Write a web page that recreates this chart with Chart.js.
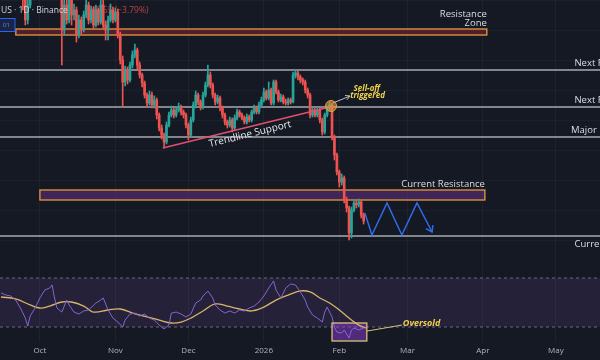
<!DOCTYPE html>
<html lang="en">
<head>
  <meta charset="UTF-8" />
  <title>Daily chart with RSI</title>
  <script src="https://cdn.jsdelivr.net/npm/chart.js"></script>
  <style>
    body { margin: 0; background: #151924; }
    #wrap { position: relative; width: 600px; height: 360px; overflow: hidden; background: #151924; }
    canvas { position: absolute; left: 0; }
    #priceChart { top: 0; }
    #rsiChart { top: 270px; }
  </style>
</head>
<body>
<div id="wrap">
  <canvas id="priceChart" width="600" height="270"></canvas>
  <canvas id="rsiChart" width="600" height="90"></canvas>
</div>
<script>
  // x axis is "days since Oct 1"
  const monthLabels = ['Oct', 'Nov', 'Dec', '2026', 'Feb', 'Mar', 'Apr', 'May'];
  const monthStarts = [0, 31, 61, 92, 123, 151, 182, 212];
  const dayMin = -16.4, dayMax = 230.1;

  // daily candles, first one on day -16 (open = previous close)
  const firstDay = -16;
  const firstOpen = 4400;
  const closes = [
    4420,4380,4450,4400,4350,4300,4380,4330,4280,4230,
    4000,4150,4320,4400,4450,4500,4480,4550,4600,4520,
    4580,4500,4450,4400,4350,3900,4150,4000,4200,4050,
    4100,3850,4000,3900,4050,4150,4000,4100,3950,4100,
    3980,4150,3950,3900,4000,4100,4000,4080,3850,3600,
    3380,3500,3400,3550,3650,3700,3550,3450,3370,3250,
    3170,3250,3150,3200,3050,2920,2850,2780,2950,3050,
    3100,3050,3100,3130,3080,3050,2950,2850,3000,3150,
    3250,3180,3130,3250,3350,3450,3350,3250,3180,3220,
    3120,3050,2980,2950,3000,2920,3020,3080,3050,3020,
    2980,3030,3000,3080,3120,3080,3150,3200,3280,3220,
    3300,3170,3380,3280,3200,3230,3180,3170,3200,3180,
    3450,3470,3430,3400,3380,3300,3250,3050,3100,3050,
    3100,3000,2880,3050,3120,3150,2830,2650,2480,2380,
    2420,2200,2120,1870,2100,2170,2150,2180,2050,1990
  ];
  const highs = [
    4470,4450,4490,4480,4420,4380,4410,4400,4360,4300,
    4260,4230,4360,4440,4490,4540,4550,4590,4650,4630,
    4610,4600,4520,4470,4420,4380,4200,4250,4350,4300,
    4160,4130,4050,4030,4090,4200,4180,4140,4130,4150,
    4120,4220,4300,3990,4040,4160,4130,4120,4110,3880,
    3640,3540,3530,3580,3690,3760,3720,3580,3470,3390,
    3270,3290,3280,3240,3220,3070,2950,2870,2980,3080,
    3140,3120,3130,3170,3150,3100,3070,2970,3030,3180,
    3290,3270,3200,3280,3380,3550,3480,3370,3270,3250,
    3240,3140,3070,3000,3030,3020,3050,3110,3100,3070,
    3040,3060,3050,3100,3150,3140,3180,3230,3320,3300,
    3380,3320,3400,3400,3300,3260,3250,3210,3220,3220,
    3480,3500,3490,3450,3420,3400,3320,3270,3130,3120,
    3120,3120,3020,3070,3140,3180,3170,2850,2670,2500,
    2460,2440,2230,2140,2130,2200,2200,2210,2200,2070
  ];
  const lows = [
    4370,4340,4350,4370,4310,4260,4270,4290,4230,4100,
    3950,3960,4120,4290,4370,4420,4440,4450,4520,4480,
    4490,4460,4410,4350,4250,3550,3850,3960,3970,3950,
    4000,3780,3820,3860,3880,4020,3960,3970,3920,3930,
    3950,3960,3920,3800,3800,3980,3970,3980,3820,3560,
    3130,3340,3360,3380,3520,3620,3510,3420,3330,3220,
    3130,3150,3120,3120,3010,2890,2810,2720,2760,2930,
    3030,3020,3030,3080,3050,3020,2920,2800,2830,2980,
    3120,3150,3100,3110,3230,3330,3320,3220,3150,3160,
    3090,3020,2950,2920,2930,2880,2900,3000,3030,3000,
    2960,2960,2980,2980,3060,3060,3060,3130,3180,3200,
    3200,3150,3150,3260,3180,3180,3160,3150,3150,3160,
    3170,3420,3400,3370,3350,3270,3220,3020,3030,3030,
    3030,2970,2850,2860,3030,3100,2800,2600,2450,2330,
    2350,2170,2080,1800,1820,2080,2120,2130,2020,1960
  ];

  // horizontal levels
  const levelPrices = [3500, 3130, 2830, 1840];
  const levelNames = ['Next Resistance', 'Next Resistance', 'Major Resistance', 'Current Support'];

  // boxes
  const zoneNames = ['Resistance\nZone', 'Current Resistance'];
  const zoneFrom = [-9.9, 0];
  const zoneTo = [183.6, 182.8];
  const zoneLow = [3850, 2200];
  const zoneHigh = [3910, 2300];

  const trendDays = [50.5, 119.1];
  const trendPrices = [2720, 3130];

  // projected path
  const pathDays = [133.5, 136.4, 142.6, 148.7, 154.9, 161.1];
  const pathPrices = [2070, 1850, 2170, 1850, 2170, 1880];

  // RSI pane
  const rsiDays = [-16,-14,-12,-10,-8,-6,-5,-4,-2,0,2,4,5,6,7,9,11,12,14,16,18,20,23,25,26,28,30,32,34,35,
    37,39,41,43,45,47,49,51,53,54,56,58,60,62,64,66,67,69,71,72,74,76,78,80,82,84,86,88,90,92,
    94,96,97,99,101,103,105,107,109,110,112,114,116,117,118,120,121,122,124,125,127,128,129,131,133];
  const rsiValues = [57.8,56.1,55.3,52.0,45.5,37.3,30.8,39.0,45.5,53.7,60.2,61.8,64.3,53.7,45.5,42.2,52.0,48.0,42.2,40.6,
    43.1,43.9,49.6,52.0,53.7,43.9,37.3,34.1,30.0,35.7,40.6,41.4,39.0,40.6,37.3,35.7,31.6,28.4,31.6,41.4,
    42.2,40.6,38.2,40.6,49.6,52.0,55.3,59.4,53.7,48.0,43.9,41.4,43.1,41.4,43.9,43.1,45.5,47.1,50.4,55.3,
    61.8,67.6,60.2,53.7,61.8,65.1,64.3,58.6,52.0,46.3,39.8,37.3,34.1,42.2,46.3,38.2,30.0,25.9,25.1,27.6,
    21.0,27.6,29.2,27.6,29.2];
  const maDays = [-16,-10,-4,0,4,9,13,18,22,28,33,38,44,49,54,58,62,67,72,77,82,87,92,97,102,107,111,115,119,123,127,131,134];
  const maValues = [54.5,52.9,48.0,45.5,47.1,50.4,50.4,47.1,42.2,43.9,44.7,41.4,38.2,35.7,33.3,34.1,37.3,43.1,48.8,47.1,
    44.7,43.1,46.3,52.0,56.1,59.4,58.6,53.7,49.6,43.9,37.3,31.6,29.2];
  const rsiBand = [30, 70];
  const oversoldFrom = 120, oversoldTo = 134.3, oversoldTop = 33.3;

  const UP = '#26a69a', DOWN = '#ef5350';
  const days = closes.map((c, i) => firstDay + i);
  const opens = closes.map((c, i) => i ? closes[i - 1] : firstOpen);
  const candleColor = closes.map((c, i) => c >= opens[i] ? UP : DOWN);

  function dayAxis(showLabels) {
    return {
      type: 'linear', min: dayMin, max: dayMax, offset: false,
      grid: { color: 'rgba(255,255,255,0.045)', drawTicks: false, offset: false },
      border: { display: false },
      afterBuildTicks: s => { s.ticks = monthStarts.map(v => ({ value: v })); },
      afterFit: s => { s.height = showLabels ? 18 : 0; },
      ticks: {
        display: showLabels, autoSkip: false, maxRotation: 0, padding: 4,
        color: '#b2b5be', font: { size: 8, family: '"Open Sans", sans-serif' },
        callback: v => monthLabels[monthStarts.indexOf(v)]
      }
    };
  }

  const baseOptions = {
    responsive: false,
    animation: false,
    events: [],
    layout: { padding: 0 },
    plugins: { legend: { display: false }, tooltip: { enabled: false } }
  };

  const priceNotes = {
    id: 'priceNotes',
    beforeDatasetsDraw(chart) {
      const { ctx, scales: { x, y } } = chart;
      const fills = ['rgba(130,35,55,0.55)', 'rgba(105,50,140,0.5)'];
      ctx.save();
      zoneLow.forEach((lo, i) => {
        const l = x.getPixelForValue(zoneFrom[i]), r = x.getPixelForValue(zoneTo[i]);
        const t = y.getPixelForValue(zoneHigh[i]), b = y.getPixelForValue(lo);
        ctx.fillStyle = fills[i];
        ctx.fillRect(l, t, r - l, b - t);
        ctx.strokeStyle = '#e59a3c';
        ctx.lineWidth = 1.3;
        ctx.strokeRect(l, t, r - l, b - t);
      });
      ctx.restore();
    },
    afterDatasetsDraw(chart) {
      const { ctx, scales: { x, y } } = chart;
      ctx.save();
      ctx.font = '9.5px "Open Sans", sans-serif';
      ctx.fillStyle = '#dcdee4';

      // box labels
      ctx.textAlign = 'right';
      zoneNames.forEach((name, i) => {
        const lines = name.split('\n');
        const r = x.getPixelForValue(zoneTo[i]), t = y.getPixelForValue(zoneHigh[i]);
        lines.forEach((ln, k) => ctx.fillText(ln, r, t - 3 - (lines.length - 1 - k) * 9));
      });

      // level labels (run off the right edge, like the original)
      ctx.textAlign = 'left';
      levelNames.forEach((name, i) => {
        const py = y.getPixelForValue(levelPrices[i]);
        const last = i === levelNames.length - 1;
        const lx = x.getPixelForValue(i === 2 ? 218.2 : 219.6);
        ctx.fillText(name, lx, last ? py + 11 : py - 4);
      });

      // trendline label
      const p1x = x.getPixelForValue(trendDays[0]), p1y = y.getPixelForValue(trendPrices[0]);
      const p2x = x.getPixelForValue(trendDays[1]), p2y = y.getPixelForValue(trendPrices[1]);
      ctx.save();
      ctx.translate(x.getPixelForValue(86.3), y.getPixelForValue(2860));
      ctx.rotate(Math.atan2(p2y - p1y, p2x - p1x));
      ctx.textAlign = 'center';
      ctx.font = '10px "Open Sans", sans-serif';
      ctx.fillStyle = '#e6e8ec';
      ctx.fillText('Trendline Support', 0, 3);
      ctx.restore();

      // sell-off marker
      const cx = x.getPixelForValue(119.6), cy = y.getPixelForValue(3140);
      ctx.beginPath();
      ctx.arc(cx, cy, 5.5, 0, Math.PI * 2);
      ctx.fillStyle = 'rgba(235,160,55,0.55)';
      ctx.fill();
      ctx.strokeStyle = '#e6a040';
      ctx.lineWidth = 1;
      ctx.stroke();

      const ax = x.getPixelForValue(120.4), ay = y.getPixelForValue(3170);
      const bx = x.getPixelForValue(127.4), by = y.getPixelForValue(3240);
      ctx.strokeStyle = '#b8bcc4';
      ctx.lineWidth = 1;
      ctx.beginPath();
      ctx.moveTo(ax, ay); ctx.lineTo(bx, by);
      const a = Math.atan2(by - ay, bx - ax);
      ctx.moveTo(bx, by); ctx.lineTo(bx - 5 * Math.cos(a - 0.5), by - 5 * Math.sin(a - 0.5));
      ctx.moveTo(bx, by); ctx.lineTo(bx - 5 * Math.cos(a + 0.5), by - 5 * Math.sin(a + 0.5));
      ctx.stroke();

      ctx.font = 'italic bold 8px "Open Sans", sans-serif';
      ctx.fillStyle = '#f0d24a';
      ctx.textAlign = 'center';
      ctx.fillText('Sell-off', x.getPixelForValue(134.3), y.getPixelForValue(3290));
      ctx.fillText('triggered', x.getPixelForValue(134.6), y.getPixelForValue(3220));

      // arrow head on the projected path
      const n = pathDays.length;
      const ex = x.getPixelForValue(pathDays[n - 1]), ey = y.getPixelForValue(pathPrices[n - 1]);
      const sx = x.getPixelForValue(pathDays[n - 2]), sy = y.getPixelForValue(pathPrices[n - 2]);
      const b2 = Math.atan2(ey - sy, ex - sx);
      ctx.strokeStyle = '#2f6bea';
      ctx.lineWidth = 1.5;
      ctx.beginPath();
      ctx.moveTo(ex - 7 * Math.cos(b2 - 0.6), ey - 7 * Math.sin(b2 - 0.6));
      ctx.lineTo(ex, ey);
      ctx.lineTo(ex - 7 * Math.cos(b2 + 0.6), ey - 7 * Math.sin(b2 + 0.6));
      ctx.stroke();

      // symbol legend in the corner
      ctx.textAlign = 'left';
      ctx.font = '8.5px "Open Sans", sans-serif';
      ctx.fillStyle = '#d1d4dc';
      ctx.fillText('US · 1D · Binance', 1, 13);
      ctx.fillStyle = 'rgba(239,83,80,0.75)';
      ctx.fillText('−46.65 (−3.79%)', 86, 13);
      ctx.fillStyle = '#1b2440';
      ctx.fillRect(-2, 18.5, 17, 13);
      ctx.strokeStyle = '#2962ff';
      ctx.lineWidth = 1;
      ctx.strokeRect(-2, 18.5, 17, 13);
      ctx.fillStyle = '#5b8cff';
      ctx.font = '6px "Open Sans", sans-serif';
      ctx.fillText('01', 3, 27);
      ctx.restore();
    }
  };

  new Chart(document.getElementById('priceChart'), {
    type: 'bar',
    data: {
      datasets: [
        {
          data: days.map((d, i) => ({ x: d, y: [lows[i], highs[i]] })),
          backgroundColor: candleColor, barThickness: 1, grouped: false, order: 1
        },
        {
          data: days.map((d, i) => ({ x: d, y: [opens[i], closes[i]] })),
          backgroundColor: candleColor, barThickness: 2, minBarLength: 1, grouped: false, order: 1
        },
        ...levelPrices.map(p => ({
          type: 'line', data: [{ x: dayMin, y: p }, { x: dayMax, y: p }],
          borderColor: 'rgba(192,195,202,0.85)', borderWidth: 1.5, pointRadius: 0, order: 3
        })),
        {
          type: 'line', data: trendDays.map((d, i) => ({ x: d, y: trendPrices[i] })),
          borderColor: '#e2506f', borderWidth: 1.5, pointRadius: 0, order: 0
        },
        {
          type: 'line', data: pathDays.map((d, i) => ({ x: d, y: pathPrices[i] })),
          borderColor: '#2f6bea', borderWidth: 1.5, pointRadius: 0, order: 0
        }
      ]
    },
    options: {
      ...baseOptions,
      scales: {
        x: dayAxis(false),
        y: {
          min: 1500, max: 4200,
          grid: { color: 'rgba(255,255,255,0.03)', drawTicks: false },
          border: { display: false },
          ticks: { display: false, stepSize: 300 },
          afterFit: s => { s.width = 0; }
        }
      }
    },
    plugins: [priceNotes]
  });

  const rsiNotes = {
    id: 'rsiNotes',
    beforeDatasetsDraw(chart) {
      const { ctx, chartArea: area, scales: { x, y } } = chart;
      const top = y.getPixelForValue(rsiBand[1]), bot = y.getPixelForValue(rsiBand[0]);
      ctx.save();
      ctx.fillStyle = 'rgba(126,87,194,0.14)';
      ctx.fillRect(area.left, top, area.right - area.left, bot - top);
      ctx.strokeStyle = 'rgba(170,172,185,0.55)';
      ctx.lineWidth = 1;
      ctx.setLineDash([3, 3]);
      [top, bot].forEach(py => {
        ctx.beginPath();
        ctx.moveTo(area.left, py); ctx.lineTo(area.right, py);
        ctx.stroke();
      });
      ctx.setLineDash([]);
      const l = x.getPixelForValue(oversoldFrom), r = x.getPixelForValue(oversoldTo);
      const t = y.getPixelForValue(oversoldTop);
      ctx.fillStyle = 'rgba(140,60,210,0.5)';
      ctx.fillRect(l, t, r - l, area.bottom - 1 - t);
      ctx.restore();
    },
    afterDatasetsDraw(chart) {
      const { ctx, chartArea: area, scales: { x, y } } = chart;
      const l = x.getPixelForValue(oversoldFrom), r = x.getPixelForValue(oversoldTo);
      const t = y.getPixelForValue(oversoldTop);
      ctx.save();
      ctx.strokeStyle = '#d6c27c';
      ctx.lineWidth = 1.3;
      ctx.strokeRect(l, t, r - l, area.bottom - 1 - t);
      ctx.lineWidth = 1;
      ctx.beginPath();
      ctx.moveTo(r, y.getPixelForValue(26.7));
      ctx.lineTo(x.getPixelForValue(148.7), y.getPixelForValue(31.6));
      ctx.stroke();
      ctx.font = 'italic bold 9px "Open Sans", sans-serif';
      ctx.fillStyle = '#f0d24a';
      ctx.fillText('Oversold', x.getPixelForValue(149.1), y.getPixelForValue(30.8));
      ctx.restore();
    }
  };

  new Chart(document.getElementById('rsiChart'), {
    type: 'line',
    data: {
      datasets: [
        {
          data: rsiDays.map((d, i) => ({ x: d, y: rsiValues[i] })),
          borderColor: '#8466d0', borderWidth: 1, pointRadius: 0, tension: 0
        },
        {
          data: maDays.map((d, i) => ({ x: d, y: maValues[i] })),
          borderColor: '#d9b46a', borderWidth: 1.3, pointRadius: 0, tension: 0.4
        }
      ]
    },
    options: {
      ...baseOptions,
      scales: {
        x: dayAxis(true),
        y: {
          min: 17.8, max: 76.5,
          grid: { display: false },
          border: { display: false },
          ticks: { display: false },
          afterFit: s => { s.width = 0; }
        }
      }
    },
    plugins: [rsiNotes]
  });
</script>
</body>
</html>
